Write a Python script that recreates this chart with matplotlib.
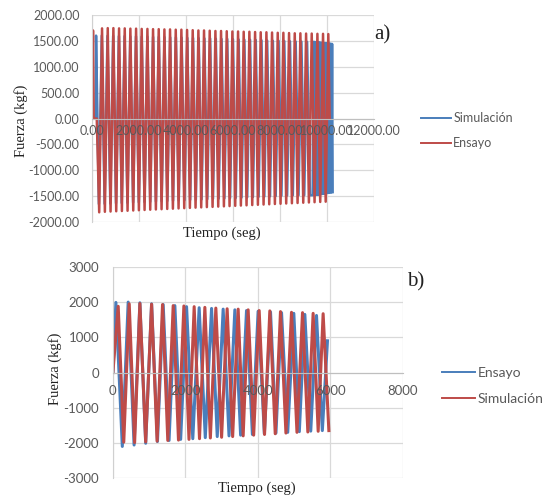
import numpy as np
from matplotlib import pyplot as plt
from matplotlib.lines import Line2D

# ---- panel a) : Simulación (blue) vs Ensayo (red) ----
ens_a_start_t = [0, 40, 70, 200]
ens_a_start_v = [0, 1700, 0, 0]
ens_a_peak_t = [425, 668, 908, 1150, 1392, 1632, 1875, 2115, 2358, 2598, 2840,
                3082, 3322, 3565, 3805, 4048, 4288, 4530, 4770, 5012, 5255, 5495,
                5738, 5978, 6220, 6460, 6702, 6945, 7185, 7428, 7668, 7910, 8150,
                8392, 8635, 8875, 9118, 9358, 9600, 9840, 10065]
ens_a_peak_v = [1740, 1745, 1745, 1740, 1740, 1735, 1735, 1730, 1730, 1725, 1725,
                1720, 1720, 1715, 1715, 1710, 1705, 1700, 1700, 1695, 1690, 1690,
                1685, 1680, 1680, 1675, 1675, 1670, 1665, 1665, 1660, 1655, 1655,
                1650, 1645, 1645, 1640, 1640, 1635, 1635, 1630]
ens_a_trough_t = [304, 546, 788, 1029, 1271, 1512, 1754, 1995, 2237, 2478, 2719,
                  2961, 3202, 3444, 3685, 3927, 4168, 4409, 4650, 4891, 5134, 5375,
                  5617, 5858, 6099, 6340, 6581, 6824, 7065, 7307, 7548, 7789, 8030,
                  8271, 8514, 8755, 8997, 9238, 9479, 9720, 9953]
ens_a_trough_v = [-1810, -1800, -1795, -1790, -1785, -1780, -1775, -1770, -1765,
                  -1760, -1755, -1750, -1745, -1740, -1735, -1730, -1725, -1720,
                  -1715, -1710, -1705, -1700, -1695, -1690, -1685, -1680, -1675,
                  -1670, -1665, -1660, -1655, -1650, -1645, -1640, -1635, -1630,
                  -1625, -1620, -1615, -1610, -1605]
ens_a_end_t = [10120]
ens_a_end_v = [0]

sim_a_start_t = [0, 150]
sim_a_start_v = [0, 0]
sim_a_peak_t = [170, 413, 656, 899, 1142, 1385, 1628, 1871, 2114, 2357, 2600, 2843,
                3086, 3329, 3572, 3815, 4058, 4301, 4544, 4787, 5030, 5273, 5516,
                5759, 6002, 6245, 6488, 6731, 6974, 7217, 7460, 7703, 7946, 8189,
                8432, 8675, 8918, 9161,
                9425, 9475, 9525, 9575, 9625, 9675, 9725, 9775, 9825, 9875, 9925,
                9975, 10025, 10075, 10125, 10175, 10225]
sim_a_peak_v = [1600, 1600, 1595, 1595, 1590, 1590, 1585, 1585, 1580, 1580, 1575,
                1575, 1570, 1565, 1565, 1560, 1555, 1555, 1550, 1545, 1545, 1540,
                1535, 1535, 1530, 1525, 1520, 1520, 1515, 1510, 1505, 1500, 1500,
                1495, 1490, 1485, 1485, 1480,
                1480, 1478, 1475, 1472, 1470, 1468, 1465, 1462, 1460, 1458, 1455,
                1452, 1450, 1448, 1445, 1442, 1440]
sim_a_trough_t = [291, 534, 777, 1020, 1263, 1506, 1749, 1992, 2235, 2478, 2721,
                  2964, 3207, 3450, 3693, 3936, 4179, 4422, 4665, 4908, 5151, 5394,
                  5637, 5880, 6123, 6366, 6609, 6852, 7095, 7338, 7581, 7824, 8067,
                  8310, 8553, 8796, 9039, 9282,
                  9400, 9450, 9500, 9550, 9600, 9650, 9700, 9750, 9800, 9850, 9900,
                  9950, 10000, 10050, 10100, 10150, 10200, 10250]
sim_a_trough_v = [-1650, -1645, -1640, -1635, -1630, -1625, -1620, -1615, -1610,
                  -1605, -1600, -1595, -1590, -1585, -1580, -1575, -1570, -1565,
                  -1560, -1555, -1550, -1545, -1540, -1535, -1530, -1525, -1520,
                  -1515, -1510, -1505, -1500, -1495, -1490, -1485, -1480, -1480,
                  -1480, -1480,
                  -1480, -1478, -1475, -1472, -1470, -1467, -1464, -1460, -1456,
                  -1452, -1448, -1445, -1440, -1436, -1432, -1428, -1424, -1420]

# ---- panel b) : Ensayo (blue) vs Simulación (red) ----
ens_b_peak_t = [83, 422, 745, 1068, 1388, 1710, 2033, 2381, 2723, 3043, 3366, 3688,
                4008, 4350, 4654, 4993, 5297, 5619]
ens_b_peak_v = [1990, 2000, 1980, 1950, 1930, 1900, 1870, 1840, 1820, 1800, 1780,
                1760, 1740, 1720, 1700, 1680, 1650, 1620]
ens_b_trough_t = [260, 585, 905, 1230, 1550, 1870, 2205, 2550, 2880, 3205, 3525,
                  3850, 4180, 4500, 4825, 5145, 5460, 5780]
ens_b_trough_v = [-2100, -2060, -2010, -1960, -1930, -1900, -1880, -1850, -1820,
                  -1800, -1780, -1760, -1740, -1720, -1700, -1680, -1665, -1650]
ens_b_end_t = [5922]
ens_b_end_v = [900]

sim_b_peak_t = [147, 451, 745, 1068, 1370, 1664, 1959, 2243, 2538, 2841, 3153,
                3457, 3733, 4037, 4331, 4625, 4929, 5233, 5526, 5802]
sim_b_peak_v = [1880, 1950, 1960, 1940, 1930, 1900, 1890, 1870, 1850, 1830, 1810,
                1800, 1780, 1760, 1750, 1730, 1710, 1700, 1680, 1670]
sim_b_trough_t = [300, 600, 905, 1220, 1515, 1810, 2100, 2390, 2690, 3000, 3305,
                  3595, 3885, 4185, 4480, 4775, 5080, 5380, 5665, 5960]
sim_b_trough_v = [-1980, -1990, -1970, -1950, -1930, -1920, -1900, -1880, -1860,
                  -1840, -1820, -1800, -1780, -1760, -1740, -1720, -1700, -1690,
                  -1670, -1650]

BLUE = '#4A7EBB'
RED = '#BE4B48'
GRID = '#D9D9D9'
TXT = '#595959'
SANS = 'Lato'
SERIF = 'Liberation Serif'


def zigzag(*parts):
    t = np.concatenate([np.asarray(p[0], float) for p in parts])
    v = np.concatenate([np.asarray(p[1], float) for p in parts])
    order = np.argsort(t, kind='stable')
    return t[order], v[order]


def panel(fig, rect, xlim, ylim, xticks, yticks, fmt, fs, xpad, ypad):
    ax = fig.add_axes(rect)
    ax.set_xlim(*xlim)
    ax.set_ylim(*ylim)
    ax.set_xticks(xticks)
    ax.set_yticks(yticks)
    ax.grid(True, color=GRID, linewidth=0.9)
    ax.set_axisbelow(True)
    ax.tick_params(length=0, labelbottom=False, labelleft=False)
    for s in ('top', 'right'):
        ax.spines[s].set_visible(False)
    ax.spines['bottom'].set_position(('data', 0))
    ax.spines['bottom'].set_color('#BFBFBF')
    ax.spines['left'].set_color('#D0D0D0')

    # overlay axes so the tick labels sit on top of the curves
    lab = fig.add_axes(rect, zorder=5)
    lab.patch.set_visible(False)
    lab.set_xlim(*xlim)
    lab.set_ylim(*ylim)
    lab.set_xticks(xticks)
    lab.set_yticks(yticks)
    lab.set_xticklabels([fmt % v for v in xticks])
    lab.set_yticklabels([fmt % v for v in yticks])
    for s in lab.spines.values():
        s.set_visible(False)
    lab.spines['bottom'].set_position(('data', 0))
    lab.tick_params(length=0, colors=TXT, labelsize=fs)
    lab.tick_params(axis='x', pad=xpad)
    lab.tick_params(axis='y', pad=ypad)
    for t in lab.get_xticklabels() + lab.get_yticklabels():
        t.set_fontfamily(SANS)
    return ax, lab


def legend(fig, entries, anchor, size, hl, ls):
    handles = [Line2D([], [], color=c, lw=1.4, label=n) for n, c in entries]
    fig.legend(handles=handles, loc='center left', bbox_to_anchor=anchor,
               frameon=False, borderpad=0, borderaxespad=0, handlelength=hl,
               handletextpad=0.2, labelspacing=ls,
               prop={'family': SANS, 'size': size}, labelcolor=TXT)


fig = plt.figure(figsize=(5.48, 4.97), dpi=100)

# panel a
ax1, lab1 = panel(fig, [0.168, 0.553, 0.514, 0.417], (0, 12000), (-2000, 2000),
                  np.arange(0, 12001, 2000), np.arange(-2000, 2001, 500),
                  '%.2f', 9, 5, 9)
t, v = zigzag((sim_a_start_t, sim_a_start_v), (sim_a_peak_t, sim_a_peak_v),
              (sim_a_trough_t, sim_a_trough_v))
ax1.plot(t, v, color=BLUE, lw=1.8)
t, v = zigzag((ens_a_start_t, ens_a_start_v), (ens_a_peak_t, ens_a_peak_v),
              (ens_a_trough_t, ens_a_trough_v), (ens_a_end_t, ens_a_end_v))
ax1.plot(t, v, color=RED, lw=1.8)
lab1.set_ylabel('Fuerza (kgf)', family=SERIF, fontsize=10.5, color='#222222')
lab1.set_xlabel('Tiempo (seg)', family=SERIF, fontsize=10.5, color='#222222')
lab1.yaxis.set_label_coords(-0.227, 0.49)
lab1.xaxis.set_label_coords(0.46, -0.02)
legend(fig, [('Simulación', BLUE), ('Ensayo', RED)], (0.768, 0.737), 9, 2.4, 1.0)
fig.text(0.683, 0.93, 'a)', family=SERIF, fontsize=15, color='#222222',
         va='center')

# panel b
ax2, lab2 = panel(fig, [0.206, 0.038, 0.529, 0.425], (0, 8000), (-3000, 3000),
                  np.arange(0, 8001, 2000), np.arange(-3000, 3001, 1000),
                  '%d', 9.5, 9, 10)
t, v = zigzag(([0], [0]), (ens_b_peak_t, ens_b_peak_v),
              (ens_b_trough_t, ens_b_trough_v), (ens_b_end_t, ens_b_end_v))
ax2.plot(t, v, color=BLUE, lw=2.2)
t, v = zigzag(([0], [0]), (sim_b_peak_t, sim_b_peak_v),
              (sim_b_trough_t, sim_b_trough_v))
ax2.plot(t, v, color=RED, lw=2.2)
lab2.set_ylabel('Fuerza (kgf)', family=SERIF, fontsize=10.5, color='#222222')
lab2.set_xlabel('Tiempo (seg)', family=SERIF, fontsize=10.5, color='#222222')
lab2.yaxis.set_label_coords(-0.176, 0.517)
lab2.xaxis.set_label_coords(0.497, -0.014)
legend(fig, [('Ensayo', BLUE), ('Simulación', RED)], (0.806, 0.2233), 10, 2.4, 1.0)
fig.text(0.742, 0.432, 'b)', family=SERIF, fontsize=15, color='#222222',
         va='center')

fig.savefig('out.png', dpi=100)
